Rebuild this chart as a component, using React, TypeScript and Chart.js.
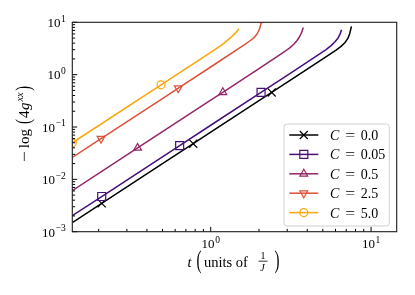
import React, { useEffect, useRef } from "react";
import { Chart, registerables } from "chart.js";

Chart.register(...registerables);

// ---- axis limits and ticks ----
const X_MIN = 0.137;
const X_MAX = 14.45;
const Y_MIN = 1e-3;
const Y_MAX = 10;
const X_MAJOR_EXP = [0, 1];
const Y_MAJOR_EXP = [-3, -2, -1, 0, 1];

// ---- series ----
const C_VALUES = ["0.0", "0.05", "0.5", "2.5", "5.0"];

const T_C00 = [0.137, 0.209, 0.5, 0.778, 1, 2, 2.4, 4, 5.55, 6.05, 6.5, 6.88, 7.17, 7.36, 7.47, 7.54];
const Y_C00 = [1.49e-3, 3.47e-3, 0.0199, 0.048, 0.08, 0.32, 0.457, 1.27, 2.47, 2.95, 3.47, 4.12, 4.93, 6.06, 7.38, 8.35];
const M_C00 = [1, 3, 6];

const T_C005 = [0.137, 0.209, 0.5, 0.64, 1, 2.06, 3, 4.81, 5.24, 5.63, 5.96, 6.23, 6.41, 6.54];
const Y_C005 = [2.03e-3, 4.7e-3, 0.027, 0.0442, 0.108, 0.458, 0.97, 2.53, 3.01, 3.58, 4.25, 5.02, 5.93, 7.22];
const M_C005 = [1, 3, 5];

const T_C05 = [0.137, 0.35, 1, 1.19, 2, 2.706, 2.909, 3.125, 3.309, 3.455, 3.581, 3.686, 3.754, 3.786];
const Y_C05 = [6.1e-3, 0.0398, 0.325, 0.46, 1.3, 2.42, 2.8, 3.28, 3.85, 4.5, 5.29, 6.33, 7.55, 7.89];
const M_C05 = [1, 3];

const T_C25 = [0.137, 0.207, 0.5, 0.628, 1, 1.523, 1.637, 1.759, 1.863, 1.945, 2.001, 2.039, 2.063, 2.084];
const Y_C25 = [0.0263, 0.06, 0.35, 0.552, 1.4, 3.28, 3.79, 4.44, 5.11, 5.98, 7.07, 8.43, 9.82, 11.98];
const M_C25 = [1, 3];

const T_C50 = [0.137, 0.49, 1, 1.143, 1.228, 1.319, 1.398, 1.459, 1.501];
const Y_C50 = [0.0499, 0.639, 2.66, 3.51, 4.13, 4.97, 5.88, 6.76, 7.51];
const M_C50 = [0, 1];

const SERIES_T = [T_C00, T_C005, T_C05, T_C25, T_C50];
const SERIES_Y = [Y_C00, Y_C005, Y_C05, Y_C25, Y_C50];
const SERIES_M = [M_C00, M_C005, M_C05, M_C25, M_C50];

// ---- styles ----
const COLORS = ["#000000", "#46107a", "#932667", "#dd513a", "#fca50a"];
const MARKERS = ["x", "sq", "tri", "dtri", "o"];
const FONT = '"Liberation Serif", "DejaVu Serif", serif';

// chart area (pixels)
const AREA = { left: 72.3, top: 22.3, right: 396.7, bottom: 231.7 };
const W = 415;
const H = 295;

function drawMarker(ctx: CanvasRenderingContext2D, kind: string, x: number, y: number, color: string) {
  ctx.save();
  ctx.strokeStyle = color;
  ctx.lineWidth = 1.2;
  ctx.beginPath();
  if (kind === "x") {
    const d = 4;
    ctx.moveTo(x - d, y - d);
    ctx.lineTo(x + d, y + d);
    ctx.moveTo(x - d, y + d);
    ctx.lineTo(x + d, y - d);
  } else if (kind === "sq") {
    ctx.rect(x - 4, y - 4, 8, 8);
  } else if (kind === "tri" || kind === "dtri") {
    const r = 4.5;
    const s = kind === "tri" ? 1 : -1;
    ctx.moveTo(x, y - s * r);
    ctx.lineTo(x + r * 0.866, y + s * r * 0.5);
    ctx.lineTo(x - r * 0.866, y + s * r * 0.5);
    ctx.closePath();
  } else {
    ctx.arc(x, y, 4, 0, Math.PI * 2);
  }
  ctx.stroke();
  ctx.restore();
}

function drawPow(ctx: CanvasRenderingContext2D, e: number, x: number, yb: number, align: string) {
  const es = e < 0 ? "\u2212" + -e : String(e);
  ctx.font = `13px ${FONT}`;
  const wb = ctx.measureText("10").width;
  ctx.font = `9.5px ${FONT}`;
  const we = ctx.measureText(es).width;
  const total = wb + 0.6 + we;
  const x0 = align === "right" ? x - total : x - total / 2;
  ctx.textAlign = "left";
  ctx.textBaseline = "alphabetic";
  ctx.font = `13px ${FONT}`;
  ctx.fillText("10", x0, yb);
  ctx.font = `9.5px ${FONT}`;
  ctx.fillText(es, x0 + wb + 0.6, yb - 5.5);
}

type Piece = { t: string; size: number; it?: boolean; dy?: number; sx?: number; gap?: number };

function drawPieces(ctx: CanvasRenderingContext2D, pieces: Piece[], x0: number, yb: number) {
  let x = x0;
  for (const p of pieces) {
    ctx.font = `${p.it ? "italic " : ""}${p.size}px ${FONT}`;
    const sx = p.sx ?? 1;
    const w = ctx.measureText(p.t).width * sx;
    ctx.save();
    ctx.translate(x, yb + (p.dy ?? 0));
    ctx.scale(sx, 1);
    ctx.fillText(p.t, 0, 0);
    ctx.restore();
    x += w + (p.gap ?? 0);
  }
  return x;
}

function piecesWidth(ctx: CanvasRenderingContext2D, pieces: Piece[]) {
  let w = 0;
  for (const p of pieces) {
    ctx.font = `${p.it ? "italic " : ""}${p.size}px ${FONT}`;
    w += ctx.measureText(p.t).width * (p.sx ?? 1) + (p.gap ?? 0);
  }
  return w;
}

const decorPlugin = {
  id: "decor",
  afterDraw(chart: any) {
    const ctx: CanvasRenderingContext2D = chart.ctx;
    const { left, right, top, bottom } = chart.chartArea;
    const xs = chart.scales.x;
    const ys = chart.scales.y;
    ctx.save();

    // ticks (inward, left & bottom)
    ctx.strokeStyle = "#000";
    ctx.lineWidth = 1;
    ctx.beginPath();
    for (let e = -3; e <= 0; e++) {
      for (let m = 1; m <= 9; m++) {
        const v = m * Math.pow(10, e);
        const py = ys.getPixelForValue(v);
        const len = m === 1 ? 4.9 : 2.8;
        ctx.moveTo(left, py);
        ctx.lineTo(left + len, py);
      }
    }
    {
      const py = ys.getPixelForValue(10);
      ctx.moveTo(left, py);
      ctx.lineTo(left + 4.9, py);
    }
    for (let e = -1; e <= 1; e++) {
      for (let m = 1; m <= 9; m++) {
        const v = m * Math.pow(10, e);
        if (v < X_MIN || v > X_MAX) continue;
        const px = xs.getPixelForValue(v);
        const len = m === 1 ? 4.9 : 2.8;
        ctx.moveTo(px, bottom);
        ctx.lineTo(px, bottom - len);
      }
    }
    ctx.stroke();

    // frame
    ctx.strokeStyle = "#1a1a1a";
    ctx.lineWidth = 1.1;
    ctx.strokeRect(left, top, right - left, bottom - top);

    // tick labels
    ctx.fillStyle = "#000";
    for (const e of Y_MAJOR_EXP) {
      const py = ys.getPixelForValue(Math.pow(10, e));
      drawPow(ctx, e, left - 6.5, py + 4.8, "right");
    }
    for (const e of X_MAJOR_EXP) {
      const px = xs.getPixelForValue(Math.pow(10, e));
      drawPow(ctx, e, px, bottom + 16.6, "center");
    }

    // x title: t (units of 1/J)
    {
      const yb = 266.7;
      drawPieces(ctx, [{ t: "t", size: 14.5, it: true }], 187.5, yb);
      drawPieces(ctx, [{ t: "(", size: 25, sx: 0.6 }], 196.5, yb + 1);
      drawPieces(ctx, [{ t: "units of", size: 14.5 }], 204, yb);
      // fraction
      const cx = 263;
      ctx.font = `10px ${FONT}`;
      const w1 = ctx.measureText("1").width;
      ctx.fillText("1", cx - w1 / 2, 259.2);
      ctx.font = `italic 10px ${FONT}`;
      const wJ = ctx.measureText("J").width;
      ctx.fillText("J", cx - wJ / 2 - 0.5, 270.8);
      ctx.beginPath();
      ctx.strokeStyle = "#000";
      ctx.lineWidth = 0.8;
      ctx.moveTo(cx - 4.5, 261.2);
      ctx.lineTo(cx + 4.5, 261.2);
      ctx.stroke();
      drawPieces(ctx, [{ t: ")", size: 25, sx: 0.6 }], 274.5, yb + 1);
    }

    // y title: −log (4g^xx)
    {
      const pcs: Piece[] = [
        { t: "\u2212", size: 15, sx: 1.3, gap: 3 },
        { t: "log", size: 15, gap: 5 },
        { t: "(", size: 21, sx: 0.7, dy: 1, gap: 1 },
        { t: "4", size: 15, gap: 0.5 },
        { t: "g", size: 15, it: true, gap: 1 },
        { t: "xx", size: 10.5, it: true, dy: -6.5, gap: 1.5 },
        { t: ")", size: 21, sx: 0.7, dy: 1 },
      ];
      const tw = piecesWidth(ctx, pcs);
      ctx.save();
      ctx.translate(29, 124);
      ctx.rotate(-Math.PI / 2);
      drawPieces(ctx, pcs, -tw / 2, 0);
      ctx.restore();
    }

    // legend
    {
      const bx = 284, by = 124, bw = 105.3, bh = 102, r = 3;
      ctx.beginPath();
      ctx.moveTo(bx + r, by);
      ctx.lineTo(bx + bw - r, by);
      ctx.arcTo(bx + bw, by, bx + bw, by + r, r);
      ctx.lineTo(bx + bw, by + bh - r);
      ctx.arcTo(bx + bw, by + bh, bx + bw - r, by + bh, r);
      ctx.lineTo(bx + r, by + bh);
      ctx.arcTo(bx, by + bh, bx, by + bh - r, r);
      ctx.lineTo(bx, by + r);
      ctx.arcTo(bx, by, bx + r, by, r);
      ctx.closePath();
      ctx.fillStyle = "rgba(255,255,255,0.8)";
      ctx.fill();
      ctx.strokeStyle = "#d0d0d0";
      ctx.lineWidth = 1;
      ctx.stroke();

      for (let i = 0; i < C_VALUES.length; i++) {
        const cy = 135 + i * 19.4;
        ctx.beginPath();
        ctx.strokeStyle = COLORS[i];
        ctx.lineWidth = 1.5;
        ctx.moveTo(289.3, cy);
        ctx.lineTo(318.3, cy);
        ctx.stroke();
        drawMarker(ctx, MARKERS[i], 303.8, cy, COLORS[i]);
        ctx.fillStyle = "#000";
        drawPieces(
          ctx,
          [
            { t: "C", size: 14, it: true, gap: 6 },
            { t: "=", size: 14, sx: 1.25, gap: 5.5 },
            { t: C_VALUES[i], size: 14 },
          ],
          330,
          cy + 5
        );
      }
    }

    ctx.restore();
  },
};

function pointStyleOf(kind: string) {
  if (kind === "x") return "crossRot";
  if (kind === "sq") return "rect";
  if (kind === "o") return "circle";
  return "triangle";
}
function pointRadiusOf(kind: string) {
  if (kind === "x") return 5.7;
  if (kind === "sq") return 5.66;
  if (kind === "o") return 4;
  return 4.5;
}

export default function App() {
  const ref = useRef<HTMLCanvasElement>(null);
  useEffect(() => {
    const canvas = ref.current;
    if (!canvas) return;
    const datasets: any[] = [];
    for (let i = 0; i < C_VALUES.length; i++) {
      const ts = SERIES_T[i];
      const vs = SERIES_Y[i];
      datasets.push({
        label: `C = ${C_VALUES[i]}`,
        data: ts.map((t, j) => ({ x: t, y: vs[j] })),
        showLine: true,
        borderColor: COLORS[i],
        borderWidth: 1.5,
        borderJoinStyle: "round",
        pointRadius: 0,
        tension: 0,
        fill: false,
        order: 10 - i,
      });
      datasets.push({
        label: `C = ${C_VALUES[i]} markers`,
        data: SERIES_M[i].map((j) => ({ x: ts[j], y: vs[j] })),
        showLine: false,
        pointStyle: pointStyleOf(MARKERS[i]),
        rotation: MARKERS[i] === "dtri" ? 180 : 0,
        pointRadius: pointRadiusOf(MARKERS[i]),
        pointBorderColor: COLORS[i],
        pointBackgroundColor: "rgba(0,0,0,0)",
        pointBorderWidth: 1.2,
        order: 10 - i,
      });
    }
    const chart = new Chart(canvas, {
      type: "scatter",
      data: { datasets },
      options: {
        animation: false,
        responsive: false,
        events: [],
        layout: {
          padding: {
            left: AREA.left,
            top: AREA.top,
            right: W - AREA.right,
            bottom: H - AREA.bottom,
          },
        },
        plugins: { legend: { display: false }, tooltip: { enabled: false } },
        scales: {
          x: { type: "logarithmic", min: X_MIN, max: X_MAX, display: false },
          y: { type: "logarithmic", min: Y_MIN, max: Y_MAX, display: false },
        },
      } as any,
      plugins: [decorPlugin],
    });
    return () => chart.destroy();
  }, []);
  return (
    <div style={{ position: "absolute", left: 0, top: 0, width: W, height: H, background: "#fff" }}>
      <canvas ref={ref} width={W} height={H} style={{ display: "block" }} />
    </div>
  );
}
